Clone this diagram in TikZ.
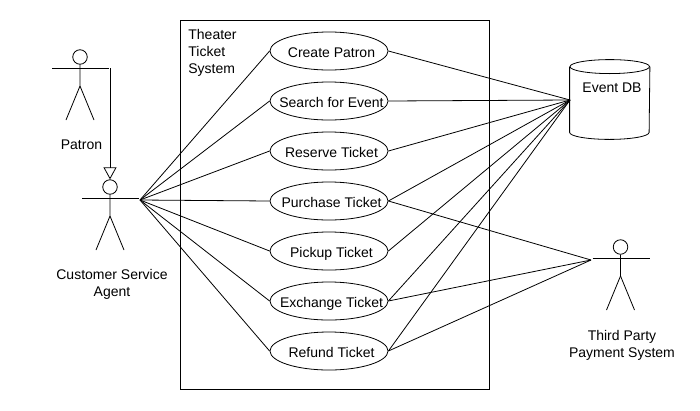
\documentclass[tikz,border=0pt]{standalone}
\usepackage{fontspec}
\setmainfont{Liberation Sans}
\usetikzlibrary{positioning,arrows.meta,shapes.geometric}
\tikzset{
  usecase/.style={draw,ellipse,minimum width=118pt,minimum height=38pt,inner xsep=-25pt,inner ysep=0pt,text height=14pt,text depth=2pt,execute at begin node=\hspace*{5pt},font=\fontsize{14}{17}\selectfont},
  caption/.style={align=center,font=\fontsize{14}{17}\selectfont},
  actor/.pic={
    \node[draw,circle,minimum size=14.5pt,inner sep=0pt] (-head) at (0,-11) {};
    \coordinate (-hand) at (30,0);
    \draw (-28,0) -- (29,0);
    \draw (-head.south) -- (0,18) -- (-14,52);
    \draw (0,18) -- (14,52);
  },
}
\begin{document}
\begin{tikzpicture}[x=1pt,y=-1pt,line width=0.8pt,>=Triangle,node distance=50pt,on grid]
  \useasboundingbox (0,0) rectangle (700,410);
  \node[draw,minimum width=309pt,minimum height=369pt,inner sep=0pt] (System) at (334.5,204.5) {};
  \node[caption,align=left,anchor=north west,inner sep=0pt] (SystemName) at (188,28.5) {Theater\\Ticket\\System};
  \pic (Patron) at (80,68) {actor};
  \pic (Agent) at (110,198) {actor};
  \pic (Third) at (620.5,258) {actor};
  \node[caption] (PatronName) at (81.5,145) {Patron};
  \node[caption] (AgentName) at (112,284) {Customer Service\\Agent};
  \node[caption] (ThirdName) at (622,345) {Third Party\\Payment System};
  \node[usecase] (Create) at (329,51) {Create Patron};
  \node[usecase,below=of Create] (Search) {Search for Event};
  \node[usecase,below=of Search] (Reserve) {Reserve Ticket};
  \node[usecase,below=of Reserve] (Purchase) {Purchase Ticket};
  \node[usecase,below=of Purchase] (Pickup) {Pickup Ticket};
  \node[usecase,below=of Pickup] (Exchange) {Exchange Ticket};
  \node[usecase,below=of Exchange] (Refund) {Refund Ticket};
  \node[minimum width=79.5pt,minimum height=79pt,inner sep=0pt] (DB) at (609.75,99.5) {};
  \draw ([yshift=-7pt]DB.north) ellipse [x radius=39.75pt,y radius=7pt];
  \draw ([yshift=-7pt]DB.north west) -- ([yshift=7pt]DB.south west)
    arc [start angle=180,end angle=360,x radius=39.75pt,y radius=7pt] -- ([yshift=-7pt]DB.north east);
  \node[caption] (DBName) at (612,88) {Event DB};
  \coordinate (AgentHub) at (140,200);
  \coordinate (DBHub) at (570,100);
  \coordinate (ThirdHub) at (591,260);
  \draw[-{Triangle[open,length=12pt,width=13pt]}] (Patron-hand) -- (Agent-head.north);
  \foreach \usecase in {Create,Search,Reserve,Purchase,Pickup,Exchange,Refund} {
    \draw (AgentHub) -- (\usecase.west);
    \draw (\usecase.east) -- (DBHub);
  }
  \foreach \usecase in {Purchase,Exchange,Refund}
    \draw (\usecase.east) -- (ThirdHub);
\end{tikzpicture}
\end{document}
